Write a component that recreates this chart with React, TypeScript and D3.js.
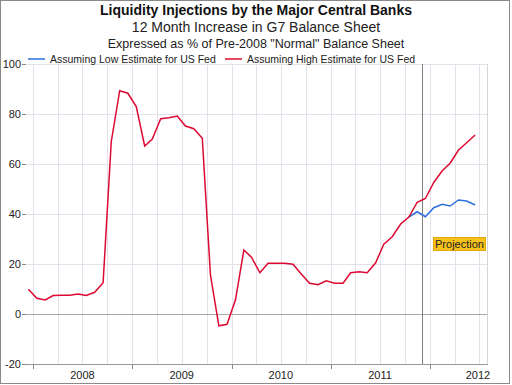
import * as d3 from "d3";
import { useEffect, useState } from "react";

// monthly readings, Dec 2007 .. Jun 2012 (high estimate for the Fed)
const highEstimate = [
  9.9, 6.3, 5.6, 7.4, 7.5, 7.5, 8.0, 7.4, 8.7, 12.5, 68.9, 89.3, 88.3, 83.0,
  67.2, 70.0, 78.1, 78.5, 79.2, 75.2, 74.1, 70.3, 15.6, -4.7, -4.1, 5.6, 25.6,
  22.7, 16.5, 20.3, 20.3, 20.3, 19.9, 15.9, 12.3, 11.7, 13.3, 12.3, 12.3, 16.5,
  16.9, 16.5, 20.5, 27.9, 30.9, 36.0, 38.8, 44.7, 46.2, 52.6, 57.3, 60.3, 65.6,
  68.5, 71.6,
];
// Oct 2011 .. Jun 2012 (low estimate for the Fed)
const lowEstimate = [38.8, 40.9, 38.9, 42.5, 43.9, 43.2, 45.6, 45.2, 43.6];
const years = ["2008", "2009", "2010", "2011", "2012"];
const yTicks = [-20, 0, 20, 40, 60, 80, 100];
const legendItems = [
  { label: "Assuming Low Estimate for US Fed", color: "#2d6fdc" },
  { label: "Assuming High Estimate for US Fed", color: "#dc0a32" },
];

export default function App() {
  const [ref, setRef] = useState<HTMLDivElement | null>(null);

  useEffect(() => {
    if (!ref) return;
    document.body.style.margin = "0";
    const width = 512;
    const height = 385;
    const left = 26;
    const right = 487;
    const font = "'Liberation Sans', Arial, sans-serif";

    const svg = d3
      .select(ref)
      .append("svg")
      .attr("width", width)
      .attr("height", height)
      .style("display", "block")
      .style("font-family", font);

    svg.append("rect").attr("width", width).attr("height", height).attr("fill", "#fff");

    const x = d3
      .scaleTime()
      .domain([new Date(2008, 0, 1), new Date(2012, 0, 1)])
      .range([33, 430]);
    const y = d3.scaleLinear().domain([-20, 100]).range([364, 64]);

    const highData = highEstimate.map((v, i) => ({ date: new Date(2007, 11 + i, 15), v }));
    const lowData = lowEstimate.map((v, i) => ({ date: new Date(2011, 9 + i, 15), v }));

    // grid
    const quarters = d3.timeMonth
      .every(3)!
      .range(x.invert(left), x.invert(right + 1));
    svg
      .append("g")
      .selectAll("line")
      .data(quarters)
      .join("line")
      .attr("x1", (d) => Math.round(x(d)) + 0.5)
      .attr("x2", (d) => Math.round(x(d)) + 0.5)
      .attr("y1", y(100))
      .attr("y2", y(-20))
      .attr("stroke", "#e4e1ea");
    svg
      .append("g")
      .selectAll("line")
      .data(yTicks.filter((t) => t !== 0 && t !== -20))
      .join("line")
      .attr("x1", left)
      .attr("x2", right)
      .attr("y1", (d) => Math.round(y(d)) + 0.5)
      .attr("y2", (d) => Math.round(y(d)) + 0.5)
      .attr("stroke", "#e4e1ea");

    // right edge + bottom axis + zero line
    svg
      .append("line")
      .attr("x1", right + 0.5)
      .attr("x2", right + 0.5)
      .attr("y1", y(100))
      .attr("y2", y(-20))
      .attr("stroke", "#d6d6d6");
    svg
      .append("line")
      .attr("x1", left)
      .attr("x2", right + 1)
      .attr("y1", Math.round(y(-20)) + 0.5)
      .attr("y2", Math.round(y(-20)) + 0.5)
      .attr("stroke", "#999");
    svg
      .append("line")
      .attr("x1", left - 4)
      .attr("x2", right)
      .attr("y1", Math.round(y(0)) + 0.5)
      .attr("y2", Math.round(y(0)) + 0.5)
      .attr("stroke", "#a8a8a8");

    // y ticks
    const yAxis = svg.append("g");
    yAxis
      .selectAll("line")
      .data(yTicks)
      .join("line")
      .attr("x1", left - 4)
      .attr("x2", left)
      .attr("y1", (d) => Math.round(y(d)) + 0.5)
      .attr("y2", (d) => Math.round(y(d)) + 0.5)
      .attr("stroke", "#888");
    yAxis
      .selectAll("text")
      .data(yTicks)
      .join("text")
      .attr("x", left - 5)
      .attr("y", (d) => y(d) + 4)
      .attr("text-anchor", "end")
      .attr("font-size", 11)
      .attr("fill", "#222")
      .text((d) => d);

    // x ticks, year labels
    const yearStarts = years.map((yr) => new Date(+yr, 0, 1));
    svg
      .append("g")
      .selectAll("line")
      .data(yearStarts)
      .join("line")
      .attr("x1", (d) => Math.round(x(d)) + 0.5)
      .attr("x2", (d) => Math.round(x(d)) + 0.5)
      .attr("y1", y(-20))
      .attr("y2", y(-20) + 5)
      .attr("stroke", "#888");
    svg
      .append("g")
      .selectAll("text")
      .data(years)
      .join("text")
      .attr("x", (d) => Math.min(x(new Date(+d, 6, 1)), 478))
      .attr("y", 379)
      .attr("text-anchor", "middle")
      .attr("font-size", 11)
      .attr("fill", "#222")
      .text((d) => d);

    // projection divider
    svg
      .append("line")
      .attr("x1", Math.round(x(new Date(2011, 11, 1))) + 0.5)
      .attr("x2", Math.round(x(new Date(2011, 11, 1))) + 0.5)
      .attr("y1", y(100))
      .attr("y2", y(-20))
      .attr("stroke", "#808080");

    const line = d3
      .line<{ date: Date; v: number }>()
      .x((d) => x(d.date))
      .y((d) => y(d.v));

    svg
      .append("path")
      .datum(lowData)
      .attr("fill", "none")
      .attr("stroke", legendItems[0].color)
      .attr("stroke-width", 1.5)
      .attr("d", line);
    svg
      .append("path")
      .datum(highData)
      .attr("fill", "none")
      .attr("stroke", legendItems[1].color)
      .attr("stroke-width", 1.5)
      .attr("d", line);

    // projection tag
    const tag = svg.append("g").attr("transform", "translate(433,237)");
    tag
      .append("rect")
      .attr("x", 0.5)
      .attr("y", 0.5)
      .attr("width", 52)
      .attr("height", 13)
      .attr("fill", "#f8c21c")
      .attr("stroke", "#e0a800");
    tag
      .append("text")
      .attr("x", 26.5)
      .attr("y", 11)
      .attr("text-anchor", "middle")
      .attr("font-size", 11)
      .attr("fill", "#222")
      .text("Projection");

    // titles
    svg
      .append("text")
      .attr("x", 256)
      .attr("y", 15)
      .attr("text-anchor", "middle")
      .attr("font-size", 14)
      .attr("font-weight", "bold")
      .attr("fill", "#111")
      .text("Liquidity Injections by the Major Central Banks");
    svg
      .append("text")
      .attr("x", 256)
      .attr("y", 32)
      .attr("text-anchor", "middle")
      .attr("font-size", 14)
      .attr("fill", "#222")
      .text("12 Month Increase in G7 Balance Sheet");
    svg
      .append("text")
      .attr("x", 256)
      .attr("y", 48)
      .attr("text-anchor", "middle")
      .attr("font-size", 12.5)
      .attr("fill", "#222")
      .text('Expressed as % of Pre-2008 "Normal" Balance Sheet');

    // legend
    const legendX = [28, 225];
    const legend = svg
      .append("g")
      .selectAll("g")
      .data(legendItems)
      .join("g")
      .attr("transform", (_, i) => `translate(${legendX[i]},59)`);
    legend
      .append("line")
      .attr("x1", 0)
      .attr("x2", 17)
      .attr("stroke", (d) => d.color)
      .attr("stroke-width", 1.5);
    legend
      .append("text")
      .attr("x", 22)
      .attr("y", 3.5)
      .attr("font-size", 10.5)
      .attr("fill", "#222")
      .text((d) => d.label);

    // outer frame
    svg
      .append("rect")
      .attr("x", 0.5)
      .attr("y", 0.5)
      .attr("width", 509)
      .attr("height", 383)
      .attr("fill", "none")
      .attr("stroke", "#8a8a8a");

    return () => {
      d3.select(ref).select("svg").remove();
    };
  }, [ref]);

  return <div ref={setRef} />;
}
